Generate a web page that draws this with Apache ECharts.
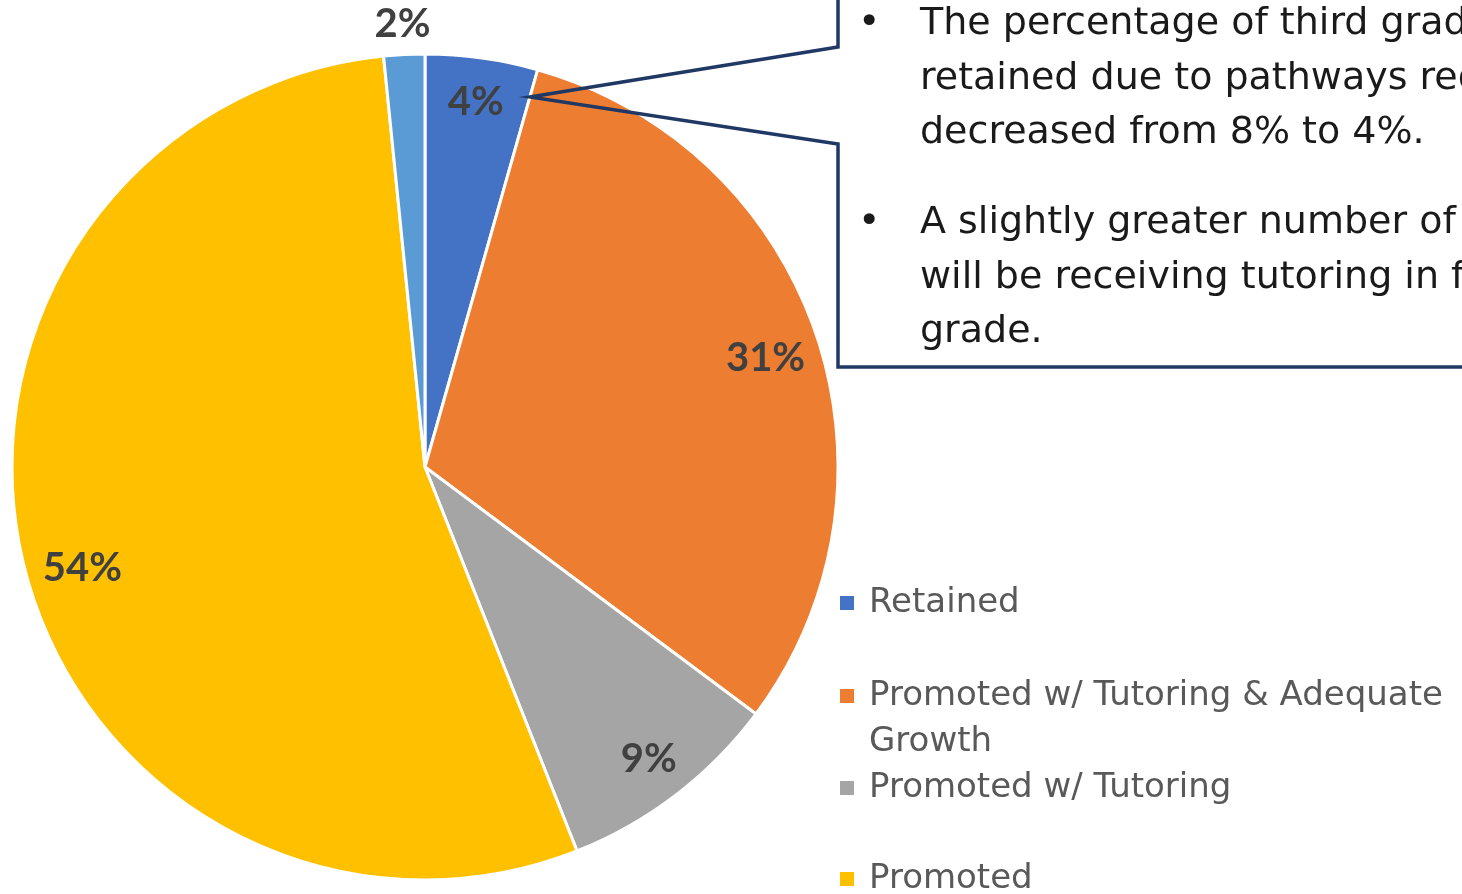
<!DOCTYPE html>
<html>
<head>
<meta charset="utf-8">
<script src="https://cdn.jsdelivr.net/npm/echarts@6/dist/echarts.min.js"></script>
<style>
  html, body { margin: 0; padding: 0; background: #fff; }
  #chart { width: 1462px; height: 894px; }
</style>
</head>
<body>
<div id="chart"></div>
<script>
var names = ["Retained", "Promoted w/ Tutoring & Adequate Growth", "Promoted w/ Tutoring", "Promoted", "Exempt"];
var values = [4.4, 30.8, 8.8, 54.4, 1.6];
var colors = ["#4472C4", "#ED7D31", "#A5A5A5", "#FFC000", "#5B9BD5"];
var legendNames = names.slice(0, 4);
var legendTops = [580, 627, 765, 856];
var bullets = [
  "The percentage of third graders\nretained due to pathways requirements\ndecreased from 8% to 4%.",
  "A slightly greater number of students\nwill be receiving tutoring in fourth\ngrade."
];

var myChart = echarts.init(document.getElementById("chart"));

var pieData = names.map(function(n, i) {
  return { name: n, value: values[i], itemStyle: { color: colors[i] } };
});

// label nudges (styling only)
var labelNudge = { 1: [-8, 9], 3: [15, 14], 4: [-4, -75] };
var labelData = names.map(function(n, i) {
  var d = { name: n, value: values[i] };
  if (labelNudge[i]) {
    d.label = { offset: labelNudge[i] };
  }
  return d;
});

var legends = legendNames.map(function(n, i) {
  return {
    data: [{ name: n, icon: "rect" }],
    left: 840,
    top: legendTops[i],
    padding: 0,
    orient: "vertical",
    itemWidth: 14,
    itemHeight: 14,
    itemStyle: { borderWidth: 0 },
    selectedMode: false,
    formatter: function(name) {
      // wrapped entry: empty first line keeps the icon level with the first text line
      if (name.indexOf(" Growth") > -1) {
        return "\n" + name.replace(" Growth", "\nGrowth");
      }
      return name;
    },
    textStyle: {
      fontFamily: "DejaVu Sans",
      fontSize: 34,
      color: "#595959",
      lineHeight: 46,
      padding: [0, 0, 0, 10]
    }
  };
});

myChart.setOption({
  animation: false,
  legend: legends,
  series: [
    {
      name: "main",
      type: "pie",
      center: [425, 467],
      radius: 413,
      startAngle: 90,
      silent: true,
      label: { show: false },
      labelLine: { show: false },
      itemStyle: {
        borderColor: "#fff",
        borderWidth: 3
      },
      data: pieData
    },
    {
      // transparent ring to place the labels near the rim
      name: "labels",
      type: "pie",
      center: [425, 467],
      radius: [326, 404],
      startAngle: 90,
      silent: true,
      legendHoverLink: false,
      itemStyle: { color: "transparent", borderWidth: 0 },
      label: {
        show: true,
        position: "inside",
        fontFamily: "Lato",
        fontWeight: "bold",
        fontSize: 40,
        color: "#404040",
        formatter: function(p) {
          return Math.round(p.value) + "%";
        }
      },
      labelLine: { show: false },
      data: labelData
    }
  ],
  graphic: [
    {
      type: "polyline",
      z: 100,
      shape: {
        points: [[838, -10], [838, 47], [530, 97], [838, 144], [838, 367], [1470, 367]]
      },
      style: { stroke: "#1F3864", lineWidth: 3.5, fill: null }
    },
    {
      type: "text",
      z: 100,
      style: {
        x: 858, y: -3,
        text: "•",
        font: "38px 'DejaVu Sans'",
        fill: "#1a1a1a",
        lineHeight: 54.5,
        verticalAlign: "top"
      }
    },
    {
      type: "text",
      z: 100,
      style: {
        x: 920, y: -3,
        text: bullets[0],
        font: "38px 'DejaVu Sans'",
        fill: "#1a1a1a",
        lineHeight: 54.5,
        verticalAlign: "top"
      }
    },
    {
      type: "text",
      z: 100,
      style: {
        x: 858, y: 196,
        text: "•",
        font: "38px 'DejaVu Sans'",
        fill: "#1a1a1a",
        lineHeight: 54.5,
        verticalAlign: "top"
      }
    },
    {
      type: "text",
      z: 100,
      style: {
        x: 920, y: 196,
        text: bullets[1],
        font: "38px 'DejaVu Sans'",
        fill: "#1a1a1a",
        lineHeight: 54.5,
        verticalAlign: "top"
      }
    }
  ]
});
</script>
</body>
</html>
